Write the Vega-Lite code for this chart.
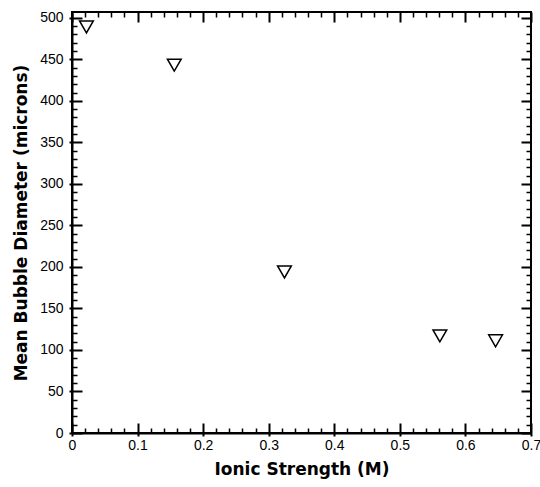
{
  "$schema": "https://vega.github.io/schema/vega-lite/v6.json",
  "autosize": "none",
  "padding": {"left": 72, "top": 12, "right": 9, "bottom": 54},
  "width": 459,
  "height": 421,
  "background": "white",
  "config": {
    "view": {"stroke": "black", "strokeWidth": 2},
    "axis": {"domainColor": "black", "tickColor": "black", "labelColor": "black", "titleColor": "black", "grid": false}
  },
  "data": {"values": [
    {"ionic_strength": 0.022, "diameter": 489},
    {"ionic_strength": 0.156, "diameter": 443},
    {"ionic_strength": 0.324, "diameter": 194},
    {"ionic_strength": 0.561, "diameter": 117},
    {"ionic_strength": 0.646, "diameter": 111}
  ]},
  "resolve": {"axis": {"x": "independent", "y": "independent"}},
  "layer": [
    {
      "mark": {"type": "point", "shape": "triangle-down", "size": 190, "filled": false, "stroke": "black", "strokeWidth": 1.5, "opacity": 1},
      "encoding": {
        "x": {"field": "ionic_strength", "type": "quantitative", "scale": {"domain": [0, 0.7], "nice": false, "zero": false},
          "axis": {"orient": "bottom", "zindex": 0, "values": [0, 0.1, 0.2, 0.3, 0.4, 0.5, 0.6, 0.7], "format": "~g", "ticks": true, "tickSize": 3, "tickWidth": 2, "domainWidth": 2,
            "labelFont": "Liberation Sans", "labelFontSize": 14, "labelPadding": 2, "labelFlush": false,
            "title": "Ionic Strength (M)", "titleFont": "DejaVu Sans", "titleFontWeight": "bold", "titleFontSize": 17, "titlePadding": 9}},
        "y": {"field": "diameter", "type": "quantitative", "scale": {"domain": [0, 507], "nice": false, "zero": false},
          "axis": {"orient": "left", "zindex": 0, "values": [0, 50, 100, 150, 200, 250, 300, 350, 400, 450, 500], "ticks": true, "tickSize": 3, "tickWidth": 2, "domainWidth": 2,
            "labelFont": "Liberation Sans", "labelFontSize": 14, "labelPadding": 6, "labelFlush": false,
            "title": "Mean Bubble Diameter (microns)", "titleFont": "DejaVu Sans", "titleFontWeight": "bold", "titleFontSize": 17, "titlePadding": 9}}
      }
    },
    {
      "mark": {"type": "point", "opacity": 0},
      "encoding": {
        "x": {"field": "ionic_strength", "type": "quantitative", "scale": {"domain": [0, 0.7], "nice": false, "zero": false},
          "axis": {"orient": "top", "zindex": 1, "values": [0, 0.1, 0.2, 0.3, 0.4, 0.5, 0.6, 0.7], "labels": false, "domain": false, "ticks": false, "title": null, "grid": true, "gridColor": "black", "gridWidth": 2, "gridOpacity": 1, "gridDash": [10, 401, 10, 1000]}},
        "y": {"field": "diameter", "type": "quantitative", "scale": {"domain": [0, 507], "nice": false, "zero": false},
          "axis": {"orient": "right", "zindex": 1, "values": [0, 50, 100, 150, 200, 250, 300, 350, 400, 450, 500], "labels": false, "domain": false, "ticks": false, "title": null, "grid": true, "gridColor": "black", "gridWidth": 2, "gridOpacity": 1, "gridDash": [10, 439, 10, 1000]}}
      }
    },
    {
      "mark": {"type": "point", "opacity": 0},
      "encoding": {
        "x": {"field": "ionic_strength", "type": "quantitative", "scale": {"domain": [0, 0.7], "nice": false, "zero": false},
          "axis": {"orient": "top", "zindex": 1, "values": [0.02, 0.04, 0.06, 0.08, 0.12, 0.14, 0.16, 0.18, 0.22, 0.24, 0.26, 0.28, 0.32, 0.34, 0.36, 0.38, 0.42, 0.44, 0.46, 0.48, 0.52, 0.54, 0.56, 0.58, 0.62, 0.64, 0.66, 0.68], "labels": false, "domain": false, "ticks": false, "title": null, "grid": true, "gridColor": "black", "gridWidth": 1.5, "gridOpacity": 1, "gridDash": [5, 411, 5, 1000]}},
        "y": {"field": "diameter", "type": "quantitative", "scale": {"domain": [0, 507], "nice": false, "zero": false},
          "axis": {"orient": "right", "zindex": 1, "values": [10, 20, 30, 40, 60, 70, 80, 90, 110, 120, 130, 140, 160, 170, 180, 190, 210, 220, 230, 240, 260, 270, 280, 290, 310, 320, 330, 340, 360, 370, 380, 390, 410, 420, 430, 440, 460, 470, 480, 490], "labels": false, "domain": false, "ticks": false, "title": null, "grid": true, "gridColor": "black", "gridWidth": 1.5, "gridOpacity": 1, "gridDash": [5, 449, 5, 1000]}}
      }
    }
  ]
}
